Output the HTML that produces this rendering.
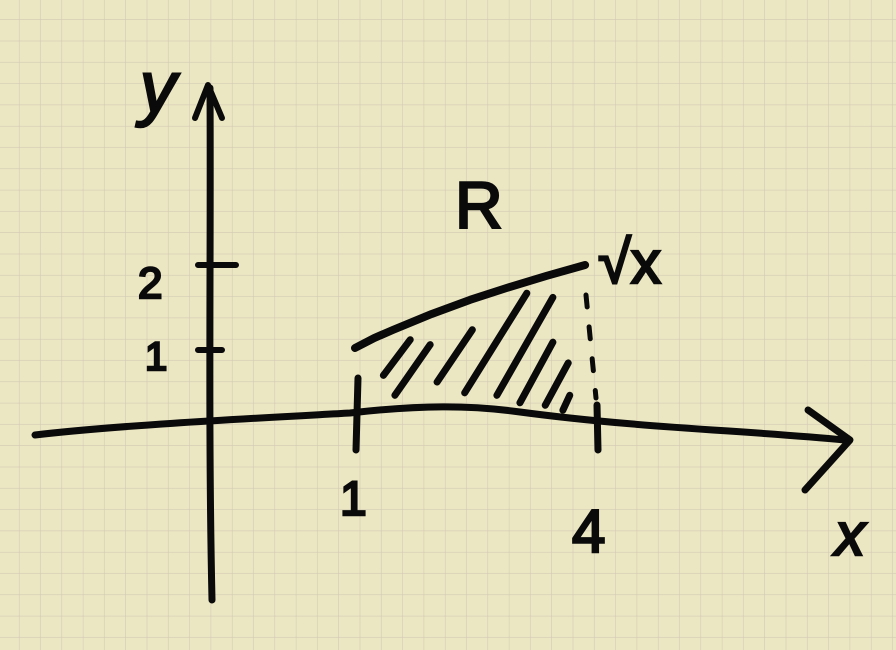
<!DOCTYPE html>
<html><head><meta charset="utf-8"><style>
html,body{margin:0;padding:0;background:#ece7c3}
svg{display:block}
.ink{fill:none;stroke:#0a0a0a;stroke-linecap:round;stroke-linejoin:round}
.lbl{font-family:"Liberation Sans",sans-serif;fill:#0a0a0a;stroke:#0a0a0a;stroke-width:2.5}
</style></head><body>
<svg id="chart" width="896" height="650" viewBox="0 0 896 650" xmlns="http://www.w3.org/2000/svg">
<defs><pattern id="grid" x="19.5" y="20" width="21.3" height="21.3" patternUnits="userSpaceOnUse"><path d="M21.3 0V21.3M0 21.3H21.3" fill="none" stroke="#d2c9b3" stroke-width="1.2"/></pattern></defs>
<rect width="896" height="650" fill="#ece7c3"/>
<rect width="896" height="650" fill="url(#grid)"/>
<path class="ink" stroke-width="7" d="M35 435 C120 425 260 418 350 413 C420 405 470 405 520 412 C640 428 740 430 845 440"/>
<path class="ink" stroke-width="7" d="M808 410 L850 440 L805 490"/>
<path class="ink" stroke-width="7" d="M210 88 C211 250 208 420 212 600"/>
<path class="ink" stroke-width="6" d="M195 118 L208 85 L222 118"/>
<path class="ink" stroke-width="6" d="M198 265 H236 M198 350 H222"/>
<path class="ink" stroke-width="7" d="M358 378 L356 450 M597 405 L598 450"/>
<path class="ink" stroke-width="5" stroke-dasharray="12 20" d="M586 295 L596 398"/>
<g id="curve"></g>
<g id="hatch"></g>
<text class="lbl" x="140" y="112" font-size="72" font-style="italic">y</text>
<text class="lbl" x="835" y="555" font-size="60" font-style="italic">x</text>
<text class="lbl" x="138" y="298" font-size="44">2</text>
<text class="lbl" x="145" y="370" font-size="40">1</text>
<text class="lbl" x="340" y="515" font-size="48">1</text>
<text class="lbl" x="572" y="552" font-size="60">4</text>
<text class="lbl" x="455" y="228" font-size="66">R</text>
<text class="lbl" x="598" y="283" font-size="60">√x</text>
</svg>
<script>
const xs=[1,1.25,1.5,2,2.5,3,3.5,4];
const ys=[1,1.12,1.22,1.41,1.58,1.73,1.87,2];
const hatchX0=[1.37,1.52,2.07,2.43,2.85,3.15,3.48,3.71];
const hatchY0=[0.67,0.43,0.59,0.46,0.43,0.34,0.31,0.25];
const hatchX1=[1.72,1.98,2.53,3.24,3.58,3.58,3.78,3.80];
const hatchY1=[1.10,1.04,1.22,1.66,1.61,1.07,0.82,0.43];
function sx(v){return 355+(v-1)*76.7;}
function sy(v){return 431-83*v;}
const NS="http://www.w3.org/2000/svg";
const c=document.getElementById('curve');
const p=document.createElementNS(NS,'path');


let d='';xs.forEach((x,i)=>{d+=(i?'L':'M')+sx(x)+' '+sy(ys[i]);});
p.setAttribute('d',d);p.setAttribute('class','ink');p.setAttribute('stroke-width','8');
c.appendChild(p);
const h=document.getElementById('hatch');
hatchX0.forEach((x,i)=>{
 const l=document.createElementNS(NS,'path');
 
 
 l.setAttribute('d','M'+sx(x)+' '+sy(hatchY0[i])+' L'+sx(hatchX1[i])+' '+sy(hatchY1[i]));
 l.setAttribute('class','ink');l.setAttribute('stroke-width','7');
 h.appendChild(l);
});
</script>
</body></html>
